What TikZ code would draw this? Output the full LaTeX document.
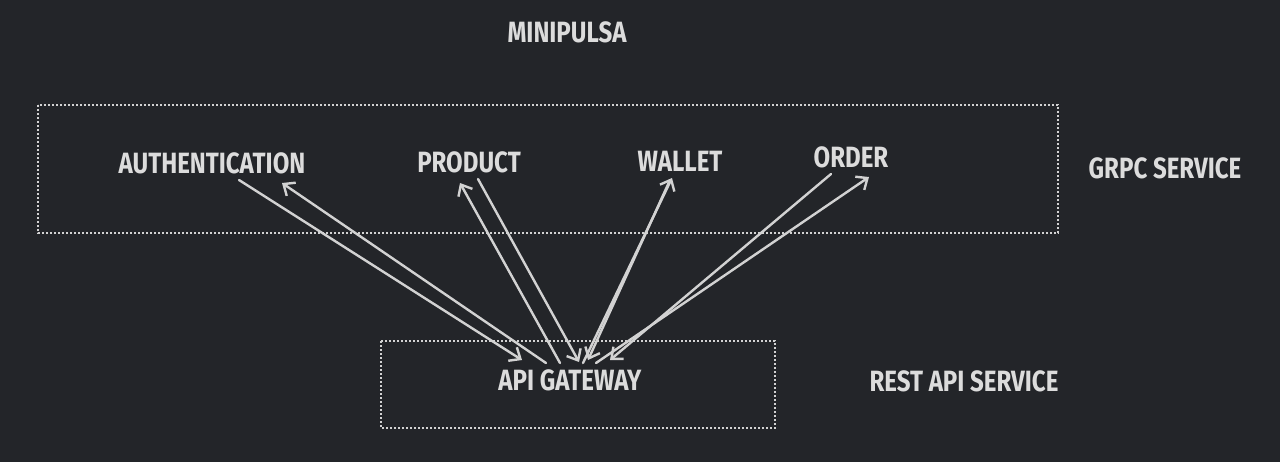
\documentclass[tikz,border=0pt]{standalone}
\usepackage{fontspec}
\newfontfamily\sketchfont{Fira Sans}[FakeStretch=0.82]
\usepackage{tikz}
\usetikzlibrary{arrows.meta}
\definecolor{bgdark}{HTML}{232529}
\definecolor{inkgrey}{HTML}{DCDCDC}
\definecolor{linegrey}{HTML}{D2D2D2}

\begin{document}
\begin{tikzpicture}[x=0.75pt, y=-0.75pt,
    label/.style={text=inkgrey, font=\sketchfont\bfseries\fontsize{22}{25}\selectfont, inner sep=0pt},
    frame/.style={draw=linegrey, line width=2pt, dash pattern=on 1.6pt off 1.4pt},
    link/.style={draw=linegrey, line width=1.8pt, line cap=round,
      -{Straight Barb[length=7pt, width=12pt, line width=1.8pt]}}]
      \fill[bgdark] (0,0) rectangle (1280,462);
      \useasboundingbox (0,0) rectangle (1280,462);

      % group frames
      \draw[frame] (38,105) rectangle (1058,233);
      \draw[frame] (381,341) rectangle (775,428);

      \node[label] (title) at (567,32) {MINIPULSA};
      \node[label] (auth) at (212,163) {AUTHENTICATION};
      \node[label] (product) at (469,162) {PRODUCT};
      \node[label] (wallet) at (680,161) {WALLET};
      \node[label] (order) at (851,157) {ORDER};
      \node[label] (grpc) at (1165,168) {GRPC SERVICE};
      \node[label] (gateway) at (570,380) {API GATEWAY};
      \node[label] (rest) at (964,381) {REST API SERVICE};

      \draw[link] ([shift={(27,17)}]auth.center) -- ([shift={(-48,-20)}]gateway.center);
      \draw[link] ([shift={(-24,-17)}]gateway.center) -- ([shift={(70,20)}]auth.center);

      \draw[link] ([shift={(-10,-17)}]gateway.center) -- ([shift={(-9,21)}]product.center);
      \draw[link] ([shift={(9,17)}]product.center) -- ([shift={(9,-18)}]gateway.center);

      \draw[link] ([shift={(13,-17)}]gateway.center) -- ([shift={(-8,17)}]wallet.center);
      \draw[link] ([shift={(-10,19)}]wallet.center) -- ([shift={(18,-20)}]gateway.center);

      \draw[link] ([shift={(-20,17)}]order.center) -- ([shift={(40,-20)}]gateway.center);
      \draw[link] ([shift={(26,-17)}]gateway.center) -- ([shift={(18,20)}]order.center);
    \end{tikzpicture}
\end{document}
